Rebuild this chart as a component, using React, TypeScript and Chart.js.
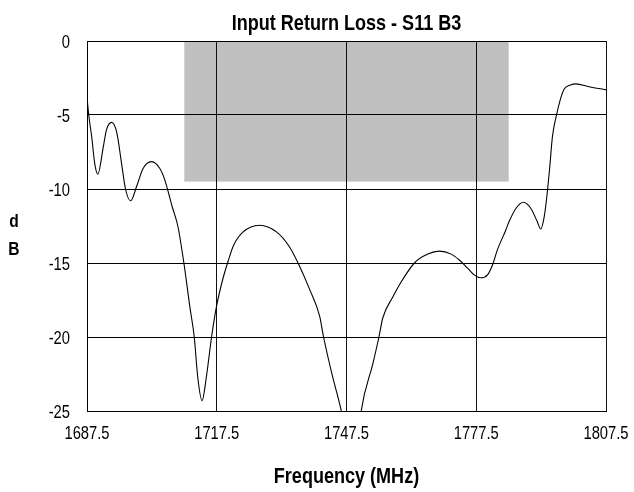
import React, { useEffect, useRef } from "react";
import { Chart, registerables } from "chart.js";

Chart.register(...registerables);

// ---- Data ----
const freqMHz = [
  1687.5, 1687.9, 1688.6, 1689.3, 1690.0, 1691.3, 1692.0, 1693.2, 1694.4, 1695.5,
  1696.4, 1697.6, 1699.0, 1700.5, 1702.4, 1704.3, 1705.5, 1707.2, 1708.5,
  1709.9, 1711.3, 1712.3, 1713.1, 1714.1, 1715.1, 1716.3, 1717.4, 1718.8, 1720.1,
  1721.4, 1723.6, 1727.4, 1731.3, 1734.3, 1736.3, 1739.0, 1741.3, 1742.2, 1744.3,
  1745.9, 1746.6, 1747.5, 1748.6, 1749.8, 1750.9, 1753.6, 1755.0, 1755.9, 1758.2,
  1760.1, 1763.2, 1766.3, 1769.0, 1771.7, 1773.6, 1775.5, 1777.0, 1778.6, 1780.1,
  1781.3, 1782.4, 1784.3, 1785.1, 1786.7, 1788.4, 1790.1, 1791.6, 1792.4, 1793.2,
  1793.9, 1794.5, 1795.1, 1796.1, 1796.9, 1797.8, 1799.3, 1800.5, 1803.6, 1807.5,
];
const s11dB = [
  -3.8, -5.0, -6.5, -8.3, -9.0, -7.1, -6.0, -5.5, -6.2, -8.3,
  -10.0, -10.8, -9.8, -8.6, -8.15, -8.6, -9.4, -11.2, -12.5,
  -15.0, -18.0, -20.0, -22.7, -24.3, -22.7, -20.0, -18.0, -16.2, -14.9,
  -13.8, -12.9, -12.45, -12.9, -13.9, -15.0, -16.8, -18.6, -20.0, -22.7,
  -24.5, -25.5, -28.0, -30.0, -28.0, -25.0, -21.8, -20.0, -18.7, -17.3,
  -16.3, -15.0, -14.4, -14.2, -14.4, -14.8, -15.35, -15.8, -16.0, -15.8,
  -15.1, -14.1, -12.8, -12.2, -11.3, -10.9, -11.3, -12.2, -12.7, -11.9,
  -10.3, -8.5, -6.5, -4.95, -4.0, -3.26, -2.97, -2.9, -3.09, -3.3,
];

// Specification band (shaded region)
const bandStartMHz = [1710];
const bandEndMHz = [1785];
const bandLimitdB = [-9.5];

const xTicks = [1687.5, 1717.5, 1747.5, 1777.5, 1807.5];
const yTicks = [0, -5, -10, -15, -20, -25];

const titleText = "Input Return Loss - S11 B3";
const xTitleText = "Frequency (MHz)";
const yTitleLines = ["d", "B"];

const FONT = '"Liberation Sans", Arial, sans-serif';
const NARROW_FACTOR = 0.82;

// Renders all canvas text horizontally condensed (Arial Narrow look-alike)
const narrowTextPlugin = {
  id: "narrowText",
  beforeInit(chart: any) {
    const ctx = chart.ctx;
    if (ctx.__origFillText) return;
    const orig = ctx.fillText;
    ctx.__origFillText = orig;
    ctx.fillText = function (text: string, x: number, y: number) {
      this.save();
      this.translate(x, y);
      this.scale(NARROW_FACTOR, 1);
      orig.call(this, text, 0, 0);
      this.restore();
    };
  },
};

const bandPlugin = {
  id: "specBand",
  beforeDraw(chart: any) {
    const { ctx, scales } = chart;
    const x = scales.x;
    const y = scales.y;
    ctx.save();
    ctx.fillStyle = "#c0c0c0";
    for (let i = 0; i < bandStartMHz.length; i++) {
      const l = x.getPixelForValue(bandStartMHz[i]);
      const r = x.getPixelForValue(bandEndMHz[i]);
      const t = y.getPixelForValue(y.max);
      const b = y.getPixelForValue(bandLimitdB[i]);
      ctx.fillRect(l, t, r - l, b - t);
    }
    ctx.restore();
  },
};

const yTitlePlugin = {
  id: "yTitleStacked",
  afterDraw(chart: any) {
    const { ctx, chartArea } = chart;
    ctx.save();
    ctx.font = `bold 19px ${FONT}`;
    ctx.fillStyle = "#000";
    ctx.textAlign = "center";
    ctx.textBaseline = "alphabetic";
    const cx = chartArea.left - 73;
    const cy = (chartArea.top + chartArea.bottom) / 2;
    yTitleLines.forEach((t, i) => {
      ctx.fillText(t, cx, cy + 1 + i * 28);
    });
    ctx.restore();
  },
};

export default function App() {
  const ref = useRef<HTMLCanvasElement | null>(null);

  useEffect(() => {
    if (!ref.current) return;
    const chart = new Chart(ref.current, {
      type: "line",
      data: {
        datasets: [
          {
            label: "S11",
            data: freqMHz.map((f, i) => ({ x: f, y: s11dB[i] })),
            borderColor: "#000",
            borderWidth: 1.1,
            pointRadius: 0,
            fill: false,
            cubicInterpolationMode: "monotone",
          },
        ],
      },
      options: {
        animation: false,
        responsive: false,
        devicePixelRatio: 1,
        layout: { padding: { left: 0, right: 28, top: 0, bottom: 0 } },
        plugins: {
          legend: { display: false },
          tooltip: { enabled: false },
          title: {
            display: true,
            text: titleText,
            fullSize: false,
            color: "#000",
            font: { family: FONT, size: 22, weight: "bold", lineHeight: 1 },
            padding: { top: 13, bottom: 6 },
          },
        },
        scales: {
          x: {
            type: "linear",
            min: 1687.5,
            max: 1807.5,
            afterBuildTicks: (s: any) => {
              s.ticks = xTicks.map((v) => ({ value: v }));
            },
            afterFit: (s: any) => {
              s.height = 81;
              s.paddingLeft = 0;
              s.paddingRight = 0;
            },
            ticks: {
              autoSkip: false,
              maxRotation: 0,
              color: "#000",
              padding: 12,
              font: { family: FONT, size: 18 },
              callback: (v: any) => Number(v).toFixed(1),
            },
            grid: { color: "#111", lineWidth: 1, drawTicks: false },
            border: { color: "#000", width: 1 },
            title: {
              display: true,
              text: xTitleText,
              color: "#000",
              font: { family: FONT, size: 22, weight: "bold", lineHeight: 1 },
              padding: { top: 0, bottom: 4 },
            },
          },
          y: {
            type: "linear",
            min: -25,
            max: 0,
            afterBuildTicks: (s: any) => {
              s.ticks = yTicks.map((v) => ({ value: v }));
            },
            afterFit: (s: any) => {
              s.width = 87;
              s.paddingTop = 0;
              s.paddingBottom = 0;
            },
            ticks: {
              color: "#000",
              padding: 17,
              labelOffset: 2,
              font: { family: FONT, size: 18 },
              callback: (v: any) => String(v),
            },
            grid: { color: "#000", lineWidth: 1, drawTicks: false },
            border: { color: "#000", width: 1 },
          },
        },
      },
      plugins: [narrowTextPlugin, bandPlugin, yTitlePlugin],
    } as any);
    return () => chart.destroy();
  }, []);

  return (
    <div style={{ position: "fixed", left: 0, top: 0, width: 634, height: 492, background: "#fff" }}>
      <canvas ref={ref} width={634} height={492} />
    </div>
  );
}
